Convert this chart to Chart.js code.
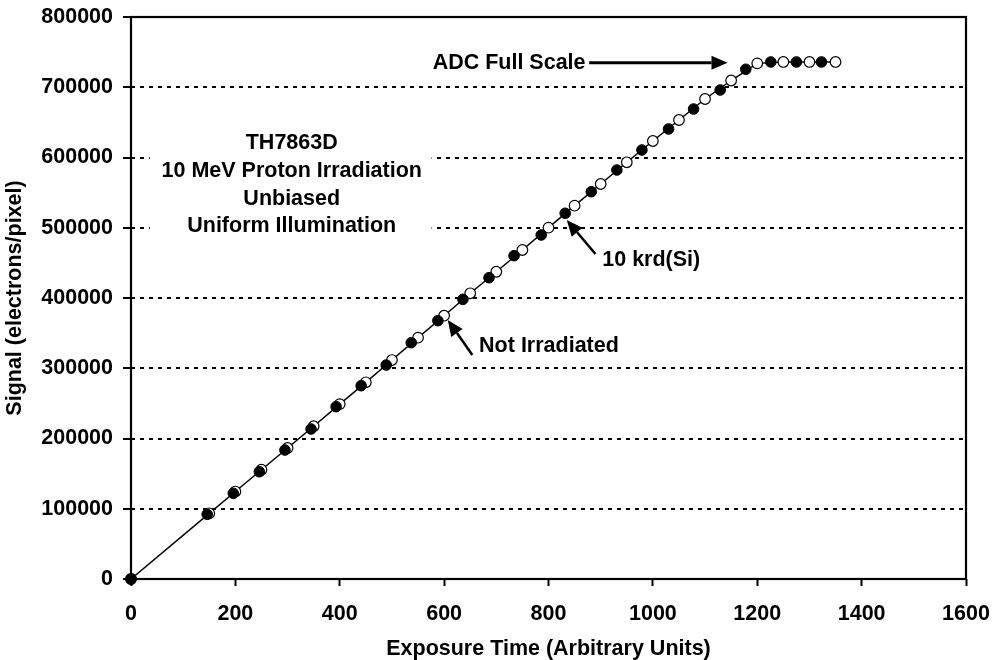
<!DOCTYPE html>
<html>
<head>
<meta charset="utf-8">
<script src="https://cdn.jsdelivr.net/npm/chart.js@4.4.1/dist/chart.umd.min.js"></script>
<style>
  html, body { margin: 0; padding: 0; background: #fff; }
  #wrap { width: 992px; height: 660px; }
</style>
</head>
<body>
<div id="wrap"><canvas id="signalChart"></canvas></div>
<script>
// Not irradiated reference (open circles)
const refTime = [0, 150, 200, 250, 300, 350, 400, 450, 500, 550, 600, 650, 700, 750,
  800, 850, 900, 950, 1000, 1050, 1100, 1150, 1200, 1250, 1300, 1350];
const refSignal = [0, 93500, 124500, 155500, 186500, 217500, 249000, 280000, 311700, 343500,
  374800, 406700, 437400, 468300, 500100, 531400, 562300, 593200, 623500, 653400, 683300,
  709600, 734000, 736000, 736000, 736000];

// After 10 krd(Si) of protons (filled circles)
const irrTime = [0, 146, 196, 246, 295, 345, 393, 441, 489, 537, 588, 636, 686, 734,
  786, 832, 882, 931, 979, 1030, 1078, 1129, 1178, 1226, 1275, 1323];
const irrSignal = [0, 92100, 122000, 152700, 183600, 213500, 245300, 275200, 304600, 336400,
  367700, 398100, 428900, 460200, 489700, 520600, 551300, 582200, 610700, 640600, 669000,
  696100, 725600, 736000, 736000, 736000];

const xTicks = [0, 200, 400, 600, 800, 1000, 1200, 1400, 1600];
const yTicks = [0, 100000, 200000, 300000, 400000, 500000, 600000, 700000, 800000];

const infoLines = ['TH7863D', '10 MeV Proton Irradiation', 'Unbiased', 'Uniform Illumination'];

const FAMILY = "'Liberation Sans', Arial, sans-serif";
const FONT = "bold 21.5px " + FAMILY;

function toPoints(xs, ys) {
  return xs.map((x, i) => ({ x: x, y: ys[i] }));
}

// frame round the plot area, and the text block with its white backing
const frameAndNotes = {
  id: 'frameAndNotes',
  beforeDatasetsDraw(chart) {
    const { ctx, chartArea: a, scales: { x, y } } = chart;
    ctx.save();
    // white panel behind the description
    const bx0 = x.getPixelForValue(36), bx1 = x.getPixelForValue(576);
    const by0 = y.getPixelForValue(642000), by1 = y.getPixelForValue(482000);
    ctx.fillStyle = '#fff';
    ctx.fillRect(bx0, by0, bx1 - bx0, by1 - by0);

    ctx.fillStyle = '#000';
    ctx.font = FONT;
    ctx.textAlign = 'center';
    ctx.textBaseline = 'middle';
    infoLines.forEach((t, i) => {
      ctx.fillText(t, x.getPixelForValue(308), y.getPixelForValue(620200 - i * 39500));
    });

    ctx.strokeStyle = '#000';
    ctx.lineWidth = 2.2;
    ctx.strokeRect(a.left, a.top, a.right - a.left, a.bottom - a.top);
    ctx.restore();
  }
};

function arrow(ctx, x0, y0, x1, y1, w) {
  const ang = Math.atan2(y1 - y0, x1 - x0);
  const len = 16, half = 7;
  const bx = x1 - len * Math.cos(ang), by = y1 - len * Math.sin(ang);
  ctx.lineWidth = w;
  ctx.beginPath();
  ctx.moveTo(x0, y0);
  ctx.lineTo(bx, by);
  ctx.stroke();
  ctx.beginPath();
  ctx.moveTo(x1, y1);
  ctx.lineTo(bx + half * Math.sin(ang), by - half * Math.cos(ang));
  ctx.lineTo(bx - half * Math.sin(ang), by + half * Math.cos(ang));
  ctx.closePath();
  ctx.fill();
}

// labelled arrows, positions in data units
const callouts = [
  { text: 'ADC Full Scale', tx: 871, ty: 735000, align: 'right', from: [878, 735000], to: [1143, 735000], w: 3 },
  { text: '10 krd(Si)', tx: 903, ty: 454000, align: 'left', from: [890, 462600], to: [835, 511000], w: 2.5 },
  { text: 'Not Irradiated', tx: 667, ty: 331700, align: 'left', from: [654, 318900], to: [607, 368700], w: 2.5 }
];

const arrowsPlugin = {
  id: 'arrowsPlugin',
  afterDatasetsDraw(chart) {
    const { ctx, scales: { x, y } } = chart;
    ctx.save();
    ctx.fillStyle = '#000';
    ctx.strokeStyle = '#000';
    ctx.font = FONT;
    ctx.textBaseline = 'middle';
    callouts.forEach(c => {
      ctx.textAlign = c.align;
      ctx.fillText(c.text, x.getPixelForValue(c.tx), y.getPixelForValue(c.ty));
      arrow(ctx,
        x.getPixelForValue(c.from[0]), y.getPixelForValue(c.from[1]),
        x.getPixelForValue(c.to[0]), y.getPixelForValue(c.to[1]), c.w);
    });
    ctx.restore();
  }
};

const tickFont = { family: FAMILY, size: 21.5, weight: 'bold' };
const titleFont = { family: FAMILY, size: 21.5, weight: 'bold', lineHeight: 1 };

new Chart(document.getElementById('signalChart'), {
  type: 'scatter',
  data: {
    datasets: [
      {
        label: '10 krd(Si)',
        data: toPoints(irrTime, irrSignal),
        showLine: false,
        pointRadius: 5.3,
        pointBackgroundColor: '#000',
        pointBorderColor: '#000',
        pointBorderWidth: 1,
        order: 0,
        clip: false
      },
      {
        label: 'Not Irradiated',
        data: toPoints(refTime, refSignal),
        showLine: true,
        borderColor: '#000',
        borderWidth: 1.5,
        pointRadius: 5.3,
        pointBackgroundColor: '#fff',
        pointBorderColor: '#000',
        pointBorderWidth: 1.2,
        order: 1,
        clip: false
      }
    ]
  },
  options: {
    responsive: true,
    maintainAspectRatio: false,
    animation: false,
    events: [],
    layout: { padding: { top: 17, right: 26, left: 0, bottom: 0 } },
    plugins: {
      legend: { display: false },
      tooltip: { enabled: false }
    },
    scales: {
      x: {
        type: 'linear',
        min: 0,
        max: 1600,
        afterBuildTicks: s => { s.ticks = xTicks.map(v => ({ value: v })); },
        afterFit: s => { s.height = 81; s.paddingLeft = 0; s.paddingRight = 0; },
        border: { display: false },
        grid: { drawOnChartArea: false, drawTicks: true, tickLength: 7, tickColor: '#000', tickWidth: 2 },
        ticks: { color: '#000', font: tickFont, padding: 15, maxRotation: 0, callback: v => String(v) },
        title: {
          display: true,
          text: 'Exposure Time (Arbitrary Units)',
          color: '#000',
          font: titleFont,
          padding: { top: 0, bottom: 0 }
        }
      },
      y: {
        type: 'linear',
        min: 0,
        max: 800000,
        afterBuildTicks: s => { s.ticks = yTicks.map(v => ({ value: v })); },
        afterFit: s => { s.width = 131; s.paddingTop = 0; s.paddingBottom = 0; },
        border: { display: false, dash: [4, 5] },
        grid: { color: '#000', lineWidth: 2, drawTicks: true, tickLength: 8, tickColor: '#000', tickWidth: 2 },
        ticks: { color: '#000', font: tickFont, padding: 10, callback: v => String(v) },
        title: {
          display: true,
          text: 'Signal (electrons/pixel)',
          color: '#000',
          font: titleFont,
          padding: { top: 4, bottom: 0 }
        }
      }
    }
  },
  plugins: [frameAndNotes, arrowsPlugin]
});
</script>
</body>
</html>
